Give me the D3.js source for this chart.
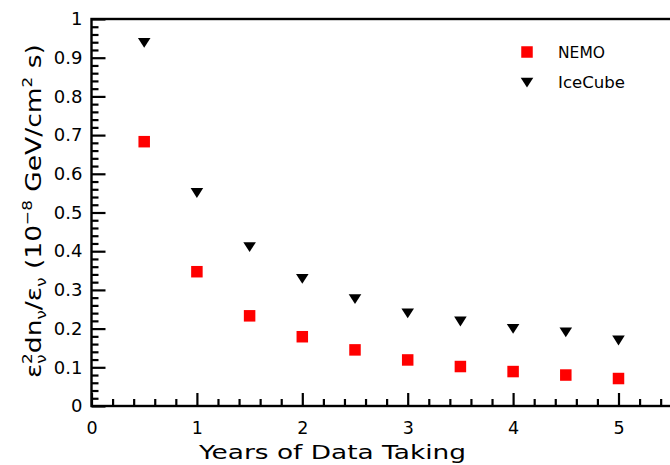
<!DOCTYPE html>
<html>
<head>
<meta charset="utf-8">
<script src="https://cdn.jsdelivr.net/npm/d3@7"></script>
<style>
  html, body { margin: 0; padding: 0; background: #fff; overflow: hidden; }
  svg { display: block; }
  text { font-family: "DejaVu Sans", "Liberation Sans", sans-serif; fill: #000; }
</style>
</head>
<body>
<svg id="chart" width="670" height="465"></svg>
<script>
// ---- data ----
const years   = [0.5, 1, 1.5, 2, 2.5, 3, 3.5, 4, 4.5, 5];
const nemo    = [0.683, 0.347, 0.233, 0.179, 0.145, 0.119, 0.102, 0.089, 0.080, 0.071];
const icecube = [0.940, 0.552, 0.412, 0.330, 0.278, 0.241, 0.220, 0.201, 0.192, 0.171];
const seriesNames = ["NEMO", "IceCube"];
const xMajorTicks = [0, 1, 2, 3, 4, 5];
const yMajorTicks = [0, 0.1, 0.2, 0.3, 0.4, 0.5, 0.6, 0.7, 0.8, 0.9, 1];
const xTitle = "Years of Data Taking";

(function () {
// ---- layout ----
const svg = d3.select("#chart");
const mLeft = 91.5, mRight = 671.2, mTop = 19, mBottom = 406;
const x = d3.scaleLinear().domain([0, 5.5]).range([mLeft, mRight]);
const y = d3.scaleLinear().domain([0, 1]).range([mBottom, mTop]);

const xMinor = d3.range(0, 5.5001, 0.2).filter(v => Math.abs(v - Math.round(v)) > 1e-6);
const yMinor = d3.range(0, 1.0001, 0.02).filter(v => Math.abs(v * 10 - Math.round(v * 10)) > 1e-6);

// minor ticks
svg.append("g").attr("transform", `translate(0,${mBottom})`)
  .call(d3.axisBottom(x).tickValues(xMinor).tickSize(-7).tickFormat(""))
  .call(g => g.select(".domain").remove())
  .selectAll("line").attr("stroke", "#000").attr("stroke-width", 2.2);
svg.append("g").attr("transform", `translate(${mLeft},0)`)
  .call(d3.axisLeft(y).tickValues(yMinor).tickSize(-7).tickFormat(""))
  .call(g => g.select(".domain").remove())
  .selectAll("line").attr("stroke", "#000").attr("stroke-width", 2.2);

// major ticks + labels
const gx = svg.append("g").attr("transform", `translate(0,${mBottom})`)
  .call(d3.axisBottom(x).tickValues(xMajorTicks).tickSize(-13).tickPadding(16).tickFormat(d3.format("d")));
gx.select(".domain").remove();
gx.selectAll("line").attr("stroke", "#000").attr("stroke-width", 2.2);
gx.selectAll("text").attr("font-size", 17.5).attr("font-family", "DejaVu Sans").attr("fill", "#000");

const gy = svg.append("g").attr("transform", `translate(${mLeft},0)`)
  .call(d3.axisLeft(y).tickValues(yMajorTicks).tickSize(-14).tickPadding(9)
    .tickFormat(d => d === 0 ? "0" : d === 1 ? "1" : d3.format(".1f")(d)));
gy.select(".domain").remove();
gy.selectAll("line").attr("stroke", "#000").attr("stroke-width", 2.2);
gy.selectAll("text").attr("font-size", 18).attr("font-family", "DejaVu Sans").attr("fill", "#000");

// frame
svg.append("rect")
  .attr("x", mLeft).attr("y", mTop)
  .attr("width", mRight - mLeft).attr("height", mBottom - mTop)
  .attr("fill", "none").attr("stroke", "#000").attr("stroke-width", 2.4);

// ---- markers ----
const sq = 11.5;
svg.append("g").selectAll("rect").data(years.map((yr, i) => [yr, nemo[i]])).join("rect")
  .attr("x", d => x(d[0]) - sq / 2).attr("y", d => y(d[1]) - sq / 2)
  .attr("width", sq).attr("height", sq).attr("fill", "#ff0000");

const tri = d3.symbol().type(d3.symbolTriangle).size(62);
svg.append("g").selectAll("path").data(years.map((yr, i) => [yr, icecube[i]])).join("path")
  .attr("d", tri)
  .attr("transform", d => `translate(${x(d[0])},${y(d[1]) - 1}) rotate(180) scale(1.05,0.95)`)
  .attr("fill", "#000");

// ---- legend ----
const lg = svg.append("g");
lg.append("rect").attr("x", 527 - sq / 2).attr("y", 52 - sq / 2).attr("width", sq).attr("height", sq).attr("fill", "#ff0000");
lg.append("path").attr("d", tri).attr("transform", "translate(527,81) rotate(180) scale(1.05,0.95)").attr("fill", "#000");
lg.append("text").attr("x", 558).attr("y", 57.5).attr("font-size", 15)
  .attr("textLength", 47).attr("lengthAdjust", "spacingAndGlyphs").text(seriesNames[0]);
lg.append("text").attr("x", 558).attr("y", 87.5).attr("font-size", 15)
  .attr("textLength", 67).attr("lengthAdjust", "spacingAndGlyphs").text(seriesNames[1]);

// ---- axis titles ----
svg.append("text").attr("x", 332.5).attr("y", 459).attr("text-anchor", "middle")
  .attr("font-size", 20).attr("textLength", 267).attr("lengthAdjust", "spacingAndGlyphs")
  .text(xTitle);

const yt = svg.append("g").attr("transform", "translate(41,211) rotate(-90)");
const yti = yt.append("g");
const t = yti.append("text").attr("font-size", 22).attr("text-anchor", "start");
const parts = [
  ["ε", 22, 0, 0], ["ν", 14, 5, 0], ["2", 14, -14, -8],
  ["dn", 22, 9, 0], ["ν", 14, 5, 0], ["/ε", 22, -5, 0], ["ν", 14, 5, 0],
  [" (10", 22, -5, 0], ["−8", 14, -9, 0], [" GeV/cm", 22, 9, 0], ["2", 14, -9, 0], [" s)", 22, 9, 0]
];
parts.forEach(p => t.append("tspan").attr("font-size", p[1]).attr("dy", p[2]).attr("dx", p[3]).text(p[0]));
const bb = t.node().getBBox();
const targetLen = 334;
const s = targetLen / bb.width;
yti.attr("transform", `scale(${s},1) translate(${-bb.x - bb.width / 2},0)`);
})();
</script>
</body>
</html>
